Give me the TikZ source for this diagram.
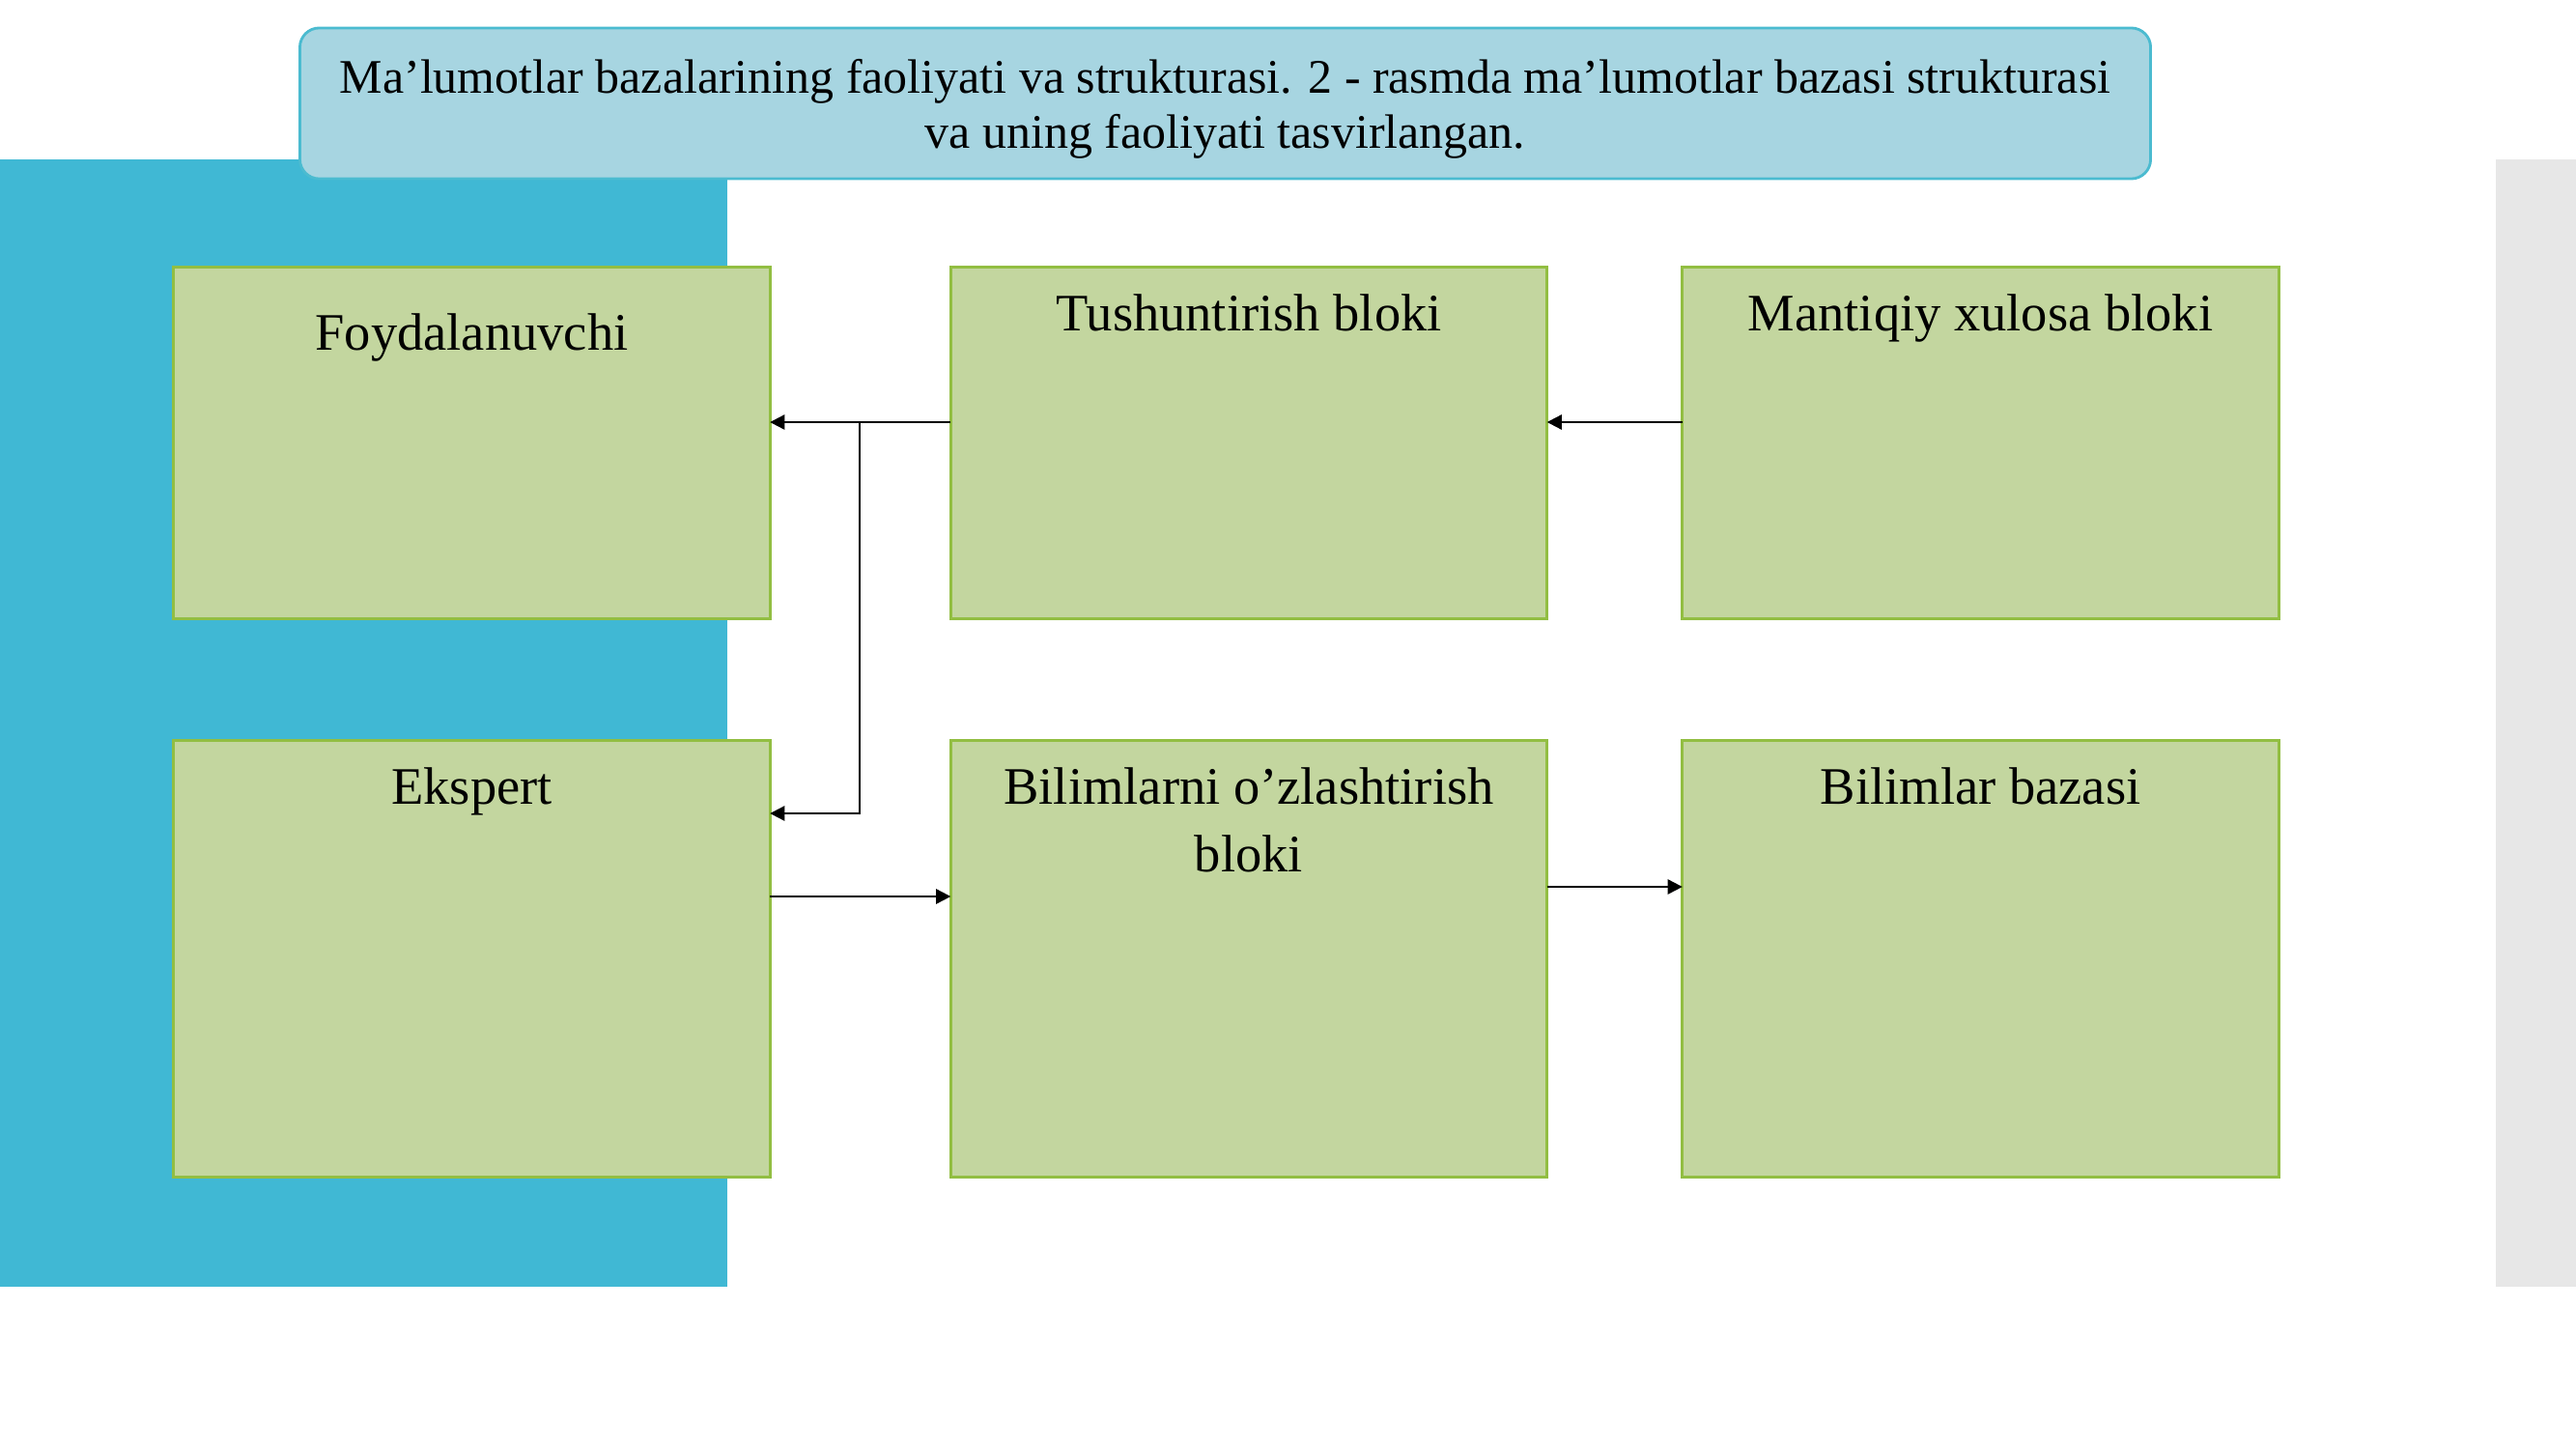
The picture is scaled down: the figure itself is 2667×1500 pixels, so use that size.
\documentclass[tikz,border=0pt]{standalone}
\usepackage{fontspec}
\setmainfont{Liberation Serif}
\usetikzlibrary{arrows.meta}
\definecolor{bgblue}{RGB}{64,184,212}
\definecolor{bggrey}{RGB}{231,231,231}
\definecolor{titlefill}{RGB}{167,213,225}
\definecolor{titleline}{RGB}{75,187,208}
\definecolor{boxfill}{RGB}{195,214,159}
\definecolor{boxline}{RGB}{146,190,66}
\tikzset{
  blk/.style={draw=boxline, fill=boxfill, line width=0.8pt, rectangle, inner sep=0pt, outer sep=0pt, minimum width=6.17cm},
  toprow/.style={blk, minimum height=3.63cm},
  botrow/.style={blk, minimum height=4.51cm},
  lbl/.style={anchor=base, inner sep=0pt, font=\fontsize{15.5}{19.9}\selectfont},
  ttl/.style={anchor=base, inner sep=0pt, font=\fontsize{14.2}{16.4}\selectfont},
  titlebox/.style={draw=titleline, fill=titlefill, line width=0.8pt, rounded corners=0.2cm, inner sep=0pt, outer sep=0pt, minimum width=19.15cm, minimum height=1.56cm},
  arr/.style={draw=black, line width=0.6pt, -{Triangle[length=4.3pt,width=4.3pt]}},
}
\begin{document}
\begin{tikzpicture}[x=0.01cm, y=-0.01cm]
\useasboundingbox (0,0) rectangle (2667,1500);
% backgrounds
\fill[bgblue] (0,165) rectangle (753,1332);
\fill[bggrey] (2584,165) rectangle (2667,1332);
% title
\node[titlebox] (title) at (1268.5,107) {};
\node[ttl] (title1) at (1268.5,96.7) {Ma’lumotlar bazalarining faoliyati va strukturasi. 2 - rasmda ma’lumotlar bazasi strukturasi};
\node[ttl] (title2) at (1268.5,154) {va uning faoliyati tasvirlangan.};
% boxes
\node[toprow] (foyd) at (488.5,458.5) {};
\node[toprow] (tush) at (1293,458.5) {};
\node[toprow] (mant) at (2050.5,458.5) {};
\node[botrow] (eksp) at (488.5,992.5) {};
\node[botrow] (bilo) at (1293,992.5) {};
\node[botrow] (bilb) at (2050.5,992.5) {};
% labels
\node[lbl] (tfoyd) at (488.5,362) {Foydalanuvchi};
\node[lbl] (ttush) at (1293,342) {Tushuntirish bloki};
\node[lbl] (tmant) at (2050.5,342) {Mantiqiy xulosa bloki};
\node[lbl] (teksp) at (488.5,832) {Ekspert};
\node[lbl] (tbilo1) at (1293,832) {Bilimlarni o’zlashtirish};
\node[lbl] (tbilo2) at (1293,902) {bloki};
\node[lbl] (tbilb) at (2050.5,832) {Bilimlar bazasi};
% connectors
\coordinate (j1) at (890,437);
\coordinate (j2) at (890,842);
\coordinate (r1) at (0,928);
\coordinate (r2) at (0,918);
\draw[arr] (tush.west |- j1) -- (foyd.east |- j1);
\draw[arr] (j1) -- (j2) -- (eksp.east |- j2);
\draw[arr] (mant.west |- j1) -- (tush.east |- j1);
\draw[arr] (eksp.east |- r1) -- (bilo.west |- r1);
\draw[arr] (bilo.east |- r2) -- (bilb.west |- r2);
\end{tikzpicture}
\end{document}
